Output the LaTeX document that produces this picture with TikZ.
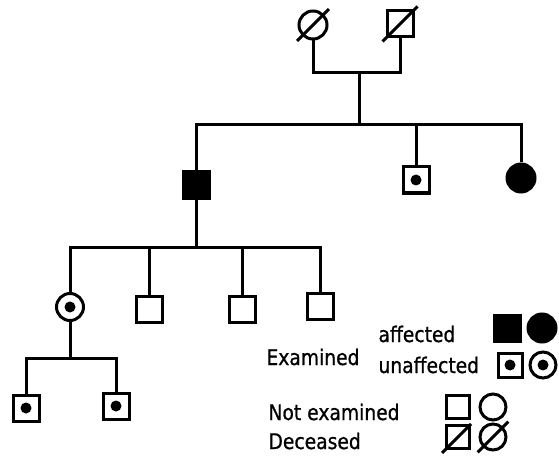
\documentclass[tikz,border=0pt]{standalone}
\usepackage{fontspec}
\setmainfont[FakeStretch=0.87, FakeBold=0.8]{DejaVu Sans}
\begin{document}
\begin{tikzpicture}[x=1pt, y=-1pt, line width=3pt,
  male/.style={draw, rectangle, minimum size=26pt, inner sep=0pt},
  female/.style={draw, circle, minimum size=28pt, inner sep=0pt},
  affected/.style={fill=black},
  carrier/.style={path picture={\fill [black] (path picture bounding box.center) circle [radius=5.5pt];}},
  label/.style={font=\fontsize{21.5}{24}\selectfont, inner sep=0pt, anchor=base west}]
\useasboundingbox (0, 0) rectangle (559, 457);

% generation I
\node [female] (gm) at (313, 25) {};
\node [male] (gf) at (400, 24) {};
\draw ([shift={(-5, 5)}]gm.south west) -- ([shift={(5, -5)}]gm.north east);
\draw ([shift={(-3, 3)}]gf.south west) -- ([shift={(3, -3)}]gf.north east);
\coordinate (barI) at (359, 73);
\coordinate (barII) at (359, 125);
\draw (gm.south) |- (barI) -| (gf.south);
\draw (barI) -- (barII);

% generation II
\node [male, affected] (IIa) at (196, 185) {};
\node [male, carrier] (IIb) at (416, 180) {};
\node [female, affected] (IIc) at (521, 178) {};
\draw (IIa.north) |- (barII) -| (IIc.north);
\draw (barII -| IIb) -- (IIb.north);

% generation III
\coordinate (barIII) at (196, 247);
\node [female, carrier, minimum size=27pt] (IIIa) at (70, 307) {};
\node [male] (IIIb) at (149, 309) {};
\node [male] (IIIc) at (242, 309) {};
\node [male] (IIId) at (320, 306) {};
\draw (IIa.south) -- (barIII);
\draw (IIIa.north) |- (barIII) -| (IIId.north);
\draw (barIII -| IIIb) -- (IIIb.north);
\draw (barIII -| IIIc) -- (IIIc.north);

% generation IV
\coordinate (barIV) at (70, 358);
\node [male, carrier] (IVa) at (26, 408) {};
\node [male, carrier] (IVb) at (116, 406) {};
\draw (IIIa.south) -- (barIV);
\draw (IVa.north) |- (barIV) -| (IVb.north);

% legend
\node [label] (examined) at (265, 365) {Examined};
\node [label] (aff) at (377, 342) {affected};
\node [label] (unaff) at (377, 373) {unaffected};
\node [label] (notex) at (267, 420) {Not examined};
\node [label] (dec) at (267, 449) {Deceased};

\node [male, affected] (keyA) at (507, 328) {};
\node [female, affected] (keyB) at (542, 328) {};
\node [male, carrier, minimum size=24pt] (keyC) at (510, 365) {};
\node [female, carrier, minimum size=26pt] (keyD) at (543, 365) {};
\node [male, minimum size=23pt] (keyE) at (458, 407) {};
\node [female, minimum size=26pt] (keyF) at (493, 407) {};
\node [male, minimum size=23pt] (keyG) at (458, 437) {};
\node [female, minimum size=26pt] (keyH) at (493, 437) {};
\draw ([shift={(-3, 3)}]keyG.south west) -- (keyG.north east);
\draw ([shift={(-5, 5)}]keyH.south west) -- ([shift={(5, -5)}]keyH.north east);
\end{tikzpicture}
\end{document}
